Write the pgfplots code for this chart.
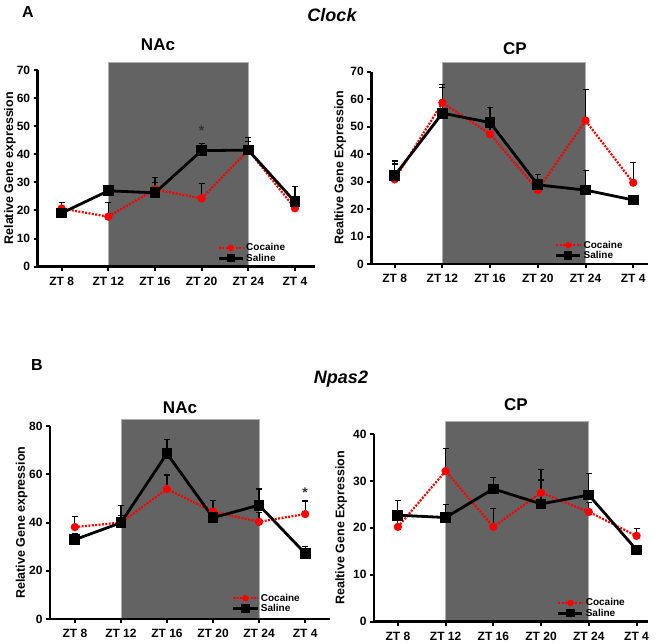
\documentclass[border=0pt]{standalone}
\usepackage{fontspec}
\setmainfont{Liberation Sans}
\usepackage{pgfplots}
\pgfplotsset{compat=1.18}
\definecolor{shade}{RGB}{99,99,99}
\definecolor{shadeedge}{RGB}{175,175,175}
\pgfplotsset{
  panel/.style={
    scale only axis, axis lines=left, axis line style={line width=2.4pt,-},
    axis on top, clip=false, ymin=0,
    xtick={0,1,2,3,4,5}, xticklabels={ZT 8, ZT 12, ZT 16, ZT 20, ZT 24, ZT 4},
    tick align=outside, major tick length=4pt,
    every tick/.style={black, line width=2pt},
    minor tick num=0,
    /pgf/number format/assume math mode=true,
    tick label style={font=\fontsize{12}{14}\selectfont\bfseries},
    xticklabel style={yshift=-3pt},
    ylabel style={font=\fontsize{12.5}{14}\selectfont\bfseries, anchor=center},
    legend style={draw=none, fill=none, font=\fontsize{10}{11}\selectfont\bfseries,
      inner sep=0pt, row sep=-2.5pt, anchor=south east},
    legend cell align=left,
    legend image code/.code={\draw[mark repeat=2,mark phase=2,##1, every mark/.append style={scale=0.7}] plot coordinates {(0pt,0pt) (12pt,0pt) (24pt,0pt)};},
  },
  rect/.style={fill=shade, draw=shadeedge, line width=0.8pt, forget plot, mark=none},
  coc/.style={red, line width=2.2pt, dash pattern=on 2pt off 1.4pt, mark=*, mark size=3pt,
    mark options={solid, fill=red, draw=red},
    error bars/.cd, y dir=plus, y explicit,
    error bar style={black, line width=1.2pt, solid},
    error mark options={rotate=90, black, line width=1.2pt, mark size=3pt, solid}},
  sal/.style={black, line width=2.8pt, mark=square*, mark size=4pt,
    mark options={solid, fill=black},
    error bars/.cd, y dir=plus, y explicit,
    error bar style={black, line width=1.2pt, solid},
    error mark options={rotate=90, black, line width=1.2pt, mark size=3pt, solid}},
}
\begin{document}
\begin{tikzpicture}[x=1pt,y=1pt]
\path[use as bounding box] (0,0) rectangle (666,644);
% titles
\node[font=\fontsize{16}{16}\selectfont\bfseries] at (28,632) {A};
\node[font=\fontsize{18}{18}\selectfont\bfseries\itshape] at (332,629) {Clock};
\node[font=\fontsize{17}{17}\selectfont\bfseries] at (158,599) {NAc};
\node[font=\fontsize{17}{17}\selectfont\bfseries] at (515,595) {CP};
\node[font=\fontsize{16}{16}\selectfont\bfseries] at (37,279) {B};
\node[font=\fontsize{18}{18}\selectfont\bfseries\itshape] at (341,265) {Npas2};
\node[font=\fontsize{17}{17}\selectfont\bfseries] at (180,236) {NAc};
\node[font=\fontsize{17}{17}\selectfont\bfseries] at (516,239) {CP};

% A NAc
\begin{axis}[panel, at={(37.7pt,377.3pt)}, anchor=south west,
  width=277.3pt, height=196.7pt, xmin=-0.514, xmax=5.43, ymax=70,
  ytick={0,10,...,70}, ylabel={Relative Gene expression},
  ylabel style={at={(axis description cs:-0.1,0.5)}},
  legend style={at={(axis description cs:0.9,0.01)}}]
\addplot[rect] coordinates {(1,0) (1,72.6) (4,72.6) (4,0)};
\addplot[coc] coordinates {(0,20.7) +- (0,2.1) (1,17.8) +- (0,5.0) (2,27.5) +- (0,2.5) (3,24.3) +- (0,5.4) (4,41.5) +- (0,3.0) (5,20.8) +- (0,1.0)};
\addplot[sal] coordinates {(0,19.1) +- (0,3.7) (1,27.0) +- (0,1.8) (2,26.3) +- (0,5.4) (3,41.3) +- (0,2.5) (4,41.5) +- (0,4.5) (5,23.1) +- (0,5.3)};
\legend{Cocaine, Saline}
\node[font=\fontsize{14}{14}\selectfont\bfseries, text=black!80, anchor=base, yshift=-8pt] at (axis cs:3,49.6) {*};
\end{axis}

% A CP
\begin{axis}[panel, at={(371.3pt,380pt)}, anchor=south west,
  width=276.7pt, height=192.3pt, xmin=-0.49, xmax=5.31, ymax=70,
  ytick={0,10,...,70}, ylabel={Realtive Gene Expression},
  ylabel style={at={(axis description cs:-0.113,0.5)}},
  legend style={at={(axis description cs:0.916,0.01)}}]
\addplot[rect] coordinates {(1,0) (1,73.3) (4,73.3) (4,0)};
\addplot[coc] coordinates {(0,30.8) +- (0,6.7) (1,58.7) +- (0,6.5) (2,47.3) +- (0,2.5) (3,26.9) +- (0,3.0) (4,52.2) +- (0,11.4) (5,29.6) +- (0,7.3)};
\addplot[sal] coordinates {(0,32.2) +- (0,4.2) (1,54.9) +- (0,9.3) (2,51.5) +- (0,5.4) (3,28.8) +- (0,3.8) (4,26.9) +- (0,7.0) (5,23.3) +- (0,1.5)};
\legend{Cocaine, Saline}
\end{axis}

% B NAc
\begin{axis}[panel, at={(50pt,25pt)}, anchor=south west,
  width=280pt, height=193pt, xmin=-0.54, xmax=5.54, ymax=80,
  ytick={0,20,...,80}, ylabel={Relative Gene expression},
  ylabel style={at={(axis description cs:-0.101,0.5)}},
  legend style={at={(axis description cs:0.9,0.02)}}]
\addplot[rect] coordinates {(1,0) (1,82.9) (4,82.9) (4,0)};
\addplot[coc] coordinates {(0,38.1) +- (0,4.3) (1,40.0) +- (0,3.0) (2,53.9) +- (0,5.8) (3,44.5) +- (0,4.7) (4,40.3) +- (0,4.0) (5,43.5) +- (0,5.4)};
\addplot[sal] coordinates {(0,32.9) +- (0,2.5) (1,39.9) +- (0,7.1) (2,68.6) +- (0,5.7) (3,42.0) +- (0,3.5) (4,47.2) +- (0,6.7) (5,27.2) +- (0,2.8)};
\legend{Cocaine, Saline}
\node[font=\fontsize{14}{14}\selectfont\bfseries, text=black!80, anchor=base, yshift=-8pt] at (axis cs:5,53.5) {*};
\end{axis}

% B CP
\begin{axis}[panel, at={(374pt,22.3pt)}, anchor=south west,
  width=274pt, height=187.7pt, xmin=-0.5, xmax=5.24, ymax=40,
  ytick={0,10,...,40}, ylabel={Realtive Gene Expression},
  ylabel style={at={(axis description cs:-0.12,0.5)}},
  legend style={at={(axis description cs:0.923,0.01)}}]
\addplot[rect] coordinates {(1,0) (1,42.6) (4,42.6) (4,0)};
\addplot[coc] coordinates {(0,20.2) +- (0,1.5) (1,32.1) +- (0,4.8) (2,20.2) +- (0,4.0) (3,27.5) +- (0,5.0) (4,23.4) +- (0,2.0) (5,18.3) +- (0,1.6)};
\addplot[sal] coordinates {(0,22.7) +- (0,3.2) (1,22.2) +- (0,2.7) (2,28.3) +- (0,2.5) (3,25.1) +- (0,5.1) (4,27.0) +- (0,4.6) (5,15.3) +- (0,1.0)};
\legend{Cocaine, Saline}
\end{axis}
\end{tikzpicture}
\end{document}
